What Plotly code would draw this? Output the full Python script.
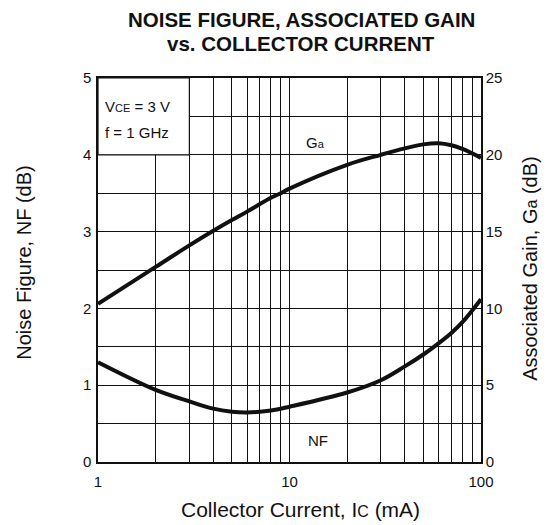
import plotly.graph_objects as go
import math

# ---- data ----
ic_nf = [1, 2, 3, 4, 5, 6, 8, 10, 20, 30, 40, 50, 60, 70, 80, 100]
nf_db = [1.30, 0.94, 0.79, 0.695, 0.655, 0.645, 0.67, 0.72, 0.905, 1.065, 1.245, 1.40, 1.545, 1.68, 1.82, 2.12]

ic_ga = [1, 2, 3, 4, 5, 6, 8, 9, 10, 20, 30, 40, 50, 60, 70, 80, 100]
ga_db = [10.3, 12.7, 14.1, 15.05, 15.75, 16.3, 17.2, 17.5, 17.8, 19.35, 20.0, 20.42, 20.68, 20.75, 20.62, 20.38, 19.8]

x_grid = [1, 2, 3, 4, 5, 6, 7, 8, 9, 10, 20, 30, 40, 50, 60, 70, 80, 90, 100]
x_labels = ["1", "", "", "", "", "", "", "", "", "10", "", "", "", "", "", "", "", "", "100"]
nf_grid = [0, 0.5, 1, 1.5, 2, 2.5, 3, 3.5, 4, 4.5, 5]
nf_labels = ["0", "", "1", "", "2", "", "3", "", "4", "", "5"]
ga_grid = [0, 5, 10, 15, 20, 25]
ga_labels = ["0", "5", "10", "15", "20", "25"]

FONT = "Liberation Sans, Arial, Helvetica, sans-serif"
INK = "#111111"

fig = go.Figure()
fig.add_trace(go.Scatter(x=ic_nf, y=nf_db, mode="lines", yaxis="y",
                         line=dict(color=INK, width=4, shape="spline", smoothing=1.0),
                         showlegend=False, hoverinfo="skip"))
fig.add_trace(go.Scatter(x=ic_ga, y=ga_db, mode="lines", yaxis="y2",
                         line=dict(color=INK, width=4, shape="spline", smoothing=1.0),
                         showlegend=False, hoverinfo="skip"))

grid_style = dict(showline=True, linecolor=INK, linewidth=1.5, showgrid=True,
                  gridcolor=INK, gridwidth=1.1, zeroline=False,
                  tickfont=dict(family=FONT, size=15, color=INK))

# page body has an 8px margin, so the figure is 8px smaller than the window
fig.update_layout(
    width=545, height=517,
    margin=dict(l=90, r=72, t=70, b=63),
    paper_bgcolor="white", plot_bgcolor="white",
    font=dict(family=FONT, color=INK),
    xaxis=dict(type="log", range=[0, 2], tickmode="array", tickvals=x_grid,
               ticktext=x_labels, mirror=True, ticks="outside", ticklen=5,
               tickcolor="rgba(0,0,0,0)", **grid_style),
    yaxis=dict(range=[0, 5], tickmode="array", tickvals=nf_grid, ticktext=nf_labels,
               ticks="", ticklabelstandoff=2, **grid_style),
    yaxis2=dict(range=[0, 25], overlaying="y", side="right", tickmode="array",
                tickvals=ga_grid, ticktext=ga_labels, showgrid=False,
                showline=True, linecolor=INK, linewidth=1.5, zeroline=False,
                tickfont=dict(family=FONT, size=15, color=INK)),
)

# inset box hiding the grid in the top-left corner
fig.add_shape(type="rect", xref="paper", yref="paper",
              x0=0, x1=math.log10(3) / 2, y0=0.8, y1=1.0,
              fillcolor="white", line=dict(color=INK, width=1.2), layer="above")

def ann(text, x, y, size, xanchor="center", angle=0, bold=False):
    fig.add_annotation(text=text, xref="paper", yref="paper", x=x, y=y,
                       xanchor=xanchor, yanchor="middle", showarrow=False,
                       textangle=angle, borderpad=0,
                       font=dict(family=FONT, size=size, color=INK,
                                 weight="bold" if bold else "normal"))

ann("NOISE FIGURE, ASSOCIATED GAIN", 0.531, 1.152, 20.5, bold=True)
ann("vs. COLLECTOR CURRENT", 0.531, 1.089, 20.5, bold=True)
ann("V<span style='font-size:11px'>CE</span> = 3 V", 0.0157, 0.926, 15, xanchor="left")
ann("f = 1 GHz", 0.0157, 0.859, 15, xanchor="left")
ann("G<span style='font-size:11px'>a</span>", 0.569, 0.8315, 15)
ann("NF", 0.574, 0.055, 15)
ann("Noise Figure, NF (dB)", -0.193, 0.519, 20, angle=-90)
ann("Associated Gain, G<span style='font-size:16px'>a</span> (dB)", 1.128, 0.503, 20, angle=-90)
ann("Collector Current, I<span style='font-size:16px'>C</span> (mA)", 0.528, -0.124, 21)

fig.write_html("out.html")
